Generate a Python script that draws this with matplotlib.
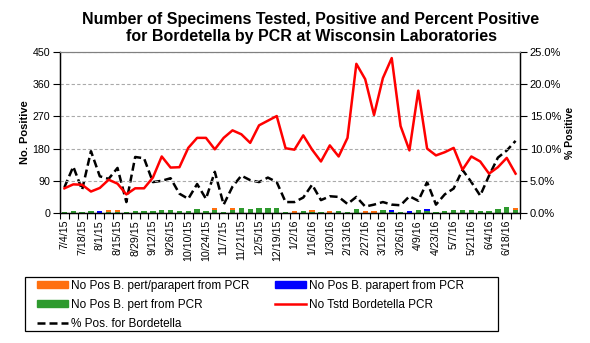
import matplotlib
matplotlib.use('Agg')
import matplotlib.pyplot as plt
import numpy as np
import pandas as pd
from matplotlib.lines import Line2D
from matplotlib.patches import Patch, Rectangle
from matplotlib.ticker import FixedLocator, FuncFormatter

plt.rcParams['font.family'] = ['Liberation Sans', 'DejaVu Sans']

# weekly reporting periods, July 2015 - June 2016
weeks = pd.date_range('2015-07-04', periods=52, freq='7D')
week_labels = [f'{d.month}/{d.day}/{d.year % 100}' for d in weeks]

tested = [69, 80, 79, 60, 70, 93, 82, 52, 69, 69, 99, 158, 127, 128, 182, 210,
          210, 178, 210, 231, 220, 196, 245, 258, 271, 181, 177, 217, 177, 144,
          189, 158, 210, 417, 374, 274, 377, 433, 243, 175, 342, 180, 161, 170,
          182, 121, 158, 144, 110, 128, 154, 110]

pct_pos = [4.0, 7.2, 3.6, 9.6, 5.7, 5.3, 7.0, 1.7, 8.7, 8.5, 4.8, 5.0, 5.4,
           3.0, 2.2, 4.5, 2.2, 6.4, 1.3, 4.1, 5.8, 5.1, 4.8, 5.5, 4.8, 1.7,
           1.7, 2.4, 4.4, 2.0, 2.6, 2.5, 1.4, 2.5, 1.0, 1.3, 1.7, 1.3, 1.2,
           2.6, 1.9, 4.8, 1.3, 2.9, 3.8, 6.7, 4.8, 2.7, 5.8, 8.6, 9.7, 11.2]

pos_pert = [3, 5, 2, 5, 0, 4, 4, 2, 5, 5, 5, 8, 8, 5, 5, 11, 5, 8, 2, 8, 13,
            11, 13, 13, 13, 2, 0, 5, 4, 2, 0, 5, 2, 11, 0, 0, 8, 3, 2, 0, 8,
            6, 2, 5, 8, 8, 8, 5, 5, 11, 17, 9]

pos_both = [0, 0, 0, 0, 0, 4, 4, 0, 0, 0, 0, 0, 0, 0, 0, 0, 0, 5, 0, 5, 0,
            0, 0, 0, 0, 0, 5, 0, 4, 0, 5, 0, 0, 0, 5, 5, 0, 0, 0, 0, 0, 0,
            0, 0, 0, 0, 0, 0, 0, 0, 0, 5]

pos_para = [0, 0, 0, 0, 5, 0, 0, 0, 0, 0, 0, 0, 0, 0, 0, 0, 0, 0, 0, 0, 0,
            0, 0, 0, 0, 0, 0, 0, 0, 0, 0, 0, 0, 0, 0, 0, 0, 5, 0, 5, 0, 5,
            0, 0, 0, 0, 0, 0, 0, 0, 0, 0]

C_ORANGE = '#FF6F0F'
C_BLUE = '#0000FF'
C_GREEN = '#2E9A2E'
C_RED = '#FF0000'
DASH = (0, (3.2, 1.6))

W, H = 590, 343
x = np.arange(len(weeks))
pert = np.array(pos_pert)
both = np.array(pos_both)
para = np.array(pos_para)

fig = plt.figure(figsize=(W / 100, H / 100), dpi=100)
ax = fig.add_axes([60 / W, 1 - 213 / H, 460 / W, 161 / H])
ax2 = ax.twinx()

ax.bar(x, pert, width=0.6, color=C_GREEN, zorder=2)
ax.bar(x, both, width=0.6, bottom=pert, color=C_ORANGE, zorder=2)
ax.bar(x, para, width=0.6, bottom=pert + both, color=C_BLUE, zorder=2)

ax2.plot(x, pct_pos, color='black', lw=1.8, ls=DASH, zorder=3)
ax.plot(x, tested, color=C_RED, lw=1.8, zorder=4)
ax.set_zorder(ax2.get_zorder() + 1)
ax.patch.set_visible(False)

ax.set_xlim(-0.5, len(x) - 0.5)
ax.set_ylim(0, 450)
ax.set_yticks(np.arange(0, 451, 90))
ax2.set_ylim(0, 25)
ax2.set_yticks(np.arange(0, 25.1, 5))
ax2.yaxis.set_major_formatter(FuncFormatter(lambda v, _: f'{v:.1f}%'))

ax.yaxis.grid(True, color='#AAAAAA', ls=(0, (3, 2)), lw=0.8)
ax.set_axisbelow(True)

ax.set_xticks(x[::2])
ax.set_xticklabels(week_labels[::2], rotation=90, fontsize=7.7)
ax.xaxis.set_minor_locator(FixedLocator(np.arange(-0.5, len(x), 1)))
ax.tick_params(axis='x', which='major', length=0, pad=5)
ax.tick_params(axis='x', which='minor', length=4, width=0.8)
ax.tick_params(axis='y', labelsize=7.7, length=5, width=0.8, pad=2)
ax2.tick_params(axis='y', labelsize=8, length=5, width=0.8, pad=2)

for s in ['left', 'bottom']:
    ax.spines[s].set_linewidth(1.0)
ax.spines['top'].set_color('#808080')
ax2.spines['top'].set_color('#808080')
ax2.spines['right'].set_linewidth(1.0)

ax.set_ylabel('No. Positive', fontsize=8, fontweight='bold', labelpad=2)
ax2.set_ylabel('% Positive', fontsize=7.5, fontweight='bold', labelpad=3)

fig.suptitle('Number of Specimens Tested, Positive and Percent Positive\n'
             'for Bordetella by PCR at Wisconsin Laboratories',
             x=311 / W, y=1 - 12 / H, fontsize=11.5, fontweight='bold',
             linespacing=1.15, va='top')

# legend frame spans a fixed box below the plot
fig.patches.append(Rectangle((25 / W, 1 - 331 / H), 473 / W, 54 / H,
                             transform=fig.transFigure, fill=False,
                             edgecolor='black', lw=0.9))

handles = [
    Patch(color=C_ORANGE, label='No Pos B. pert/parapert from PCR'),
    Patch(color=C_GREEN, label='No Pos B. pert from PCR'),
    Line2D([], [], color='black', lw=1.8, ls=DASH,
           label='% Pos. for Bordetella'),
    Patch(color=C_BLUE, label='No Pos B. parapert from PCR'),
    Line2D([], [], color=C_RED, lw=1.8, label='No Tstd Bordetella PCR'),
]
fig.legend(handles=handles, ncol=2, fontsize=8.5,
           loc='upper left', bbox_to_anchor=(37 / W, 1 - 280 / H),
           frameon=False, handlelength=2.6, handleheight=0.5,
           handletextpad=0.25, columnspacing=2.2, labelspacing=0.58,
           borderpad=0, borderaxespad=0)

fig.savefig('out.png', dpi=100)
